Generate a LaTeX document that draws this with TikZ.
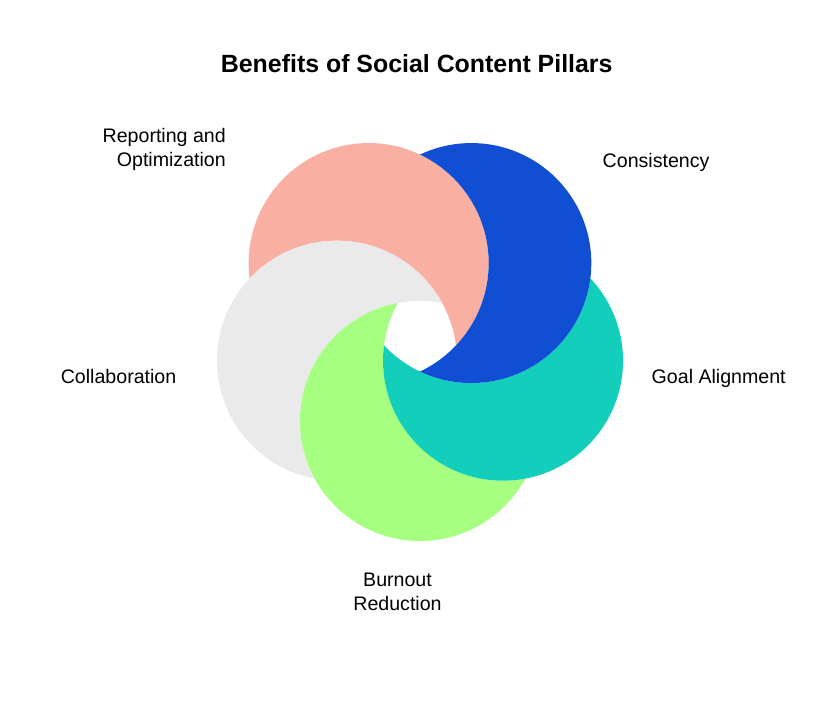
\documentclass[tikz,border=0pt]{standalone}
\usepackage{fontspec}
\setmainfont{Liberation Sans}
\definecolor{csalmon}{HTML}{F9AFA1}
\definecolor{cblue}{HTML}{104FD3}
\definecolor{cteal}{HTML}{13CEBB}
\definecolor{cgreen}{HTML}{A6FF80}
\definecolor{cgray}{HTML}{EAEAEA}
\begin{document}
\begin{tikzpicture}[x=1pt,y=-1pt,
  lab/.style={font=\fontsize{19.6}{24}\selectfont, inner sep=0pt, text=black},
  ttl/.style={font=\bfseries\fontsize{24.9}{30}\selectfont, inner sep=0pt, text=black}]
\useasboundingbox (0,0) rectangle (840,701);
\fill[white] (0,0) rectangle (840,701);
\coordinate (cs) at (368.69,263.07);
\coordinate (cb) at (471.31,263.07);
\coordinate (ct) at (503.03,360.68);
\coordinate (cg) at (420,421);
\coordinate (cy) at (336.97,360.68);
\foreach \a/\b/\c in {cs/cy/csalmon, cy/cg/cgray, cg/ct/cgreen, ct/cb/cteal, cb/cs/cblue} {
  \begin{scope}
    \clip (\a) circle (120pt);
    \fill[\c, even odd rule] (0,0) rectangle (840,701) (\b) circle (120pt);
  \end{scope}
}
\node[ttl, anchor=base] (title) at (416.7,72.5) {Benefits of Social Content Pillars};
\node[lab, align=right, anchor=east] (lrep) at (226,149) {Reporting and\\Optimization};
\node[lab, anchor=base west] (lcon) at (602.5,167) {Consistency};
\node[lab, anchor=base west] (lgoal) at (651.5,383) {Goal Alignment};
\node[lab, anchor=base east] (lcol) at (176.5,383) {Collaboration};
\node[lab, align=center, anchor=center] (lburn) at (397.5,592) {Burnout\\Reduction};
\end{tikzpicture}
\end{document}
